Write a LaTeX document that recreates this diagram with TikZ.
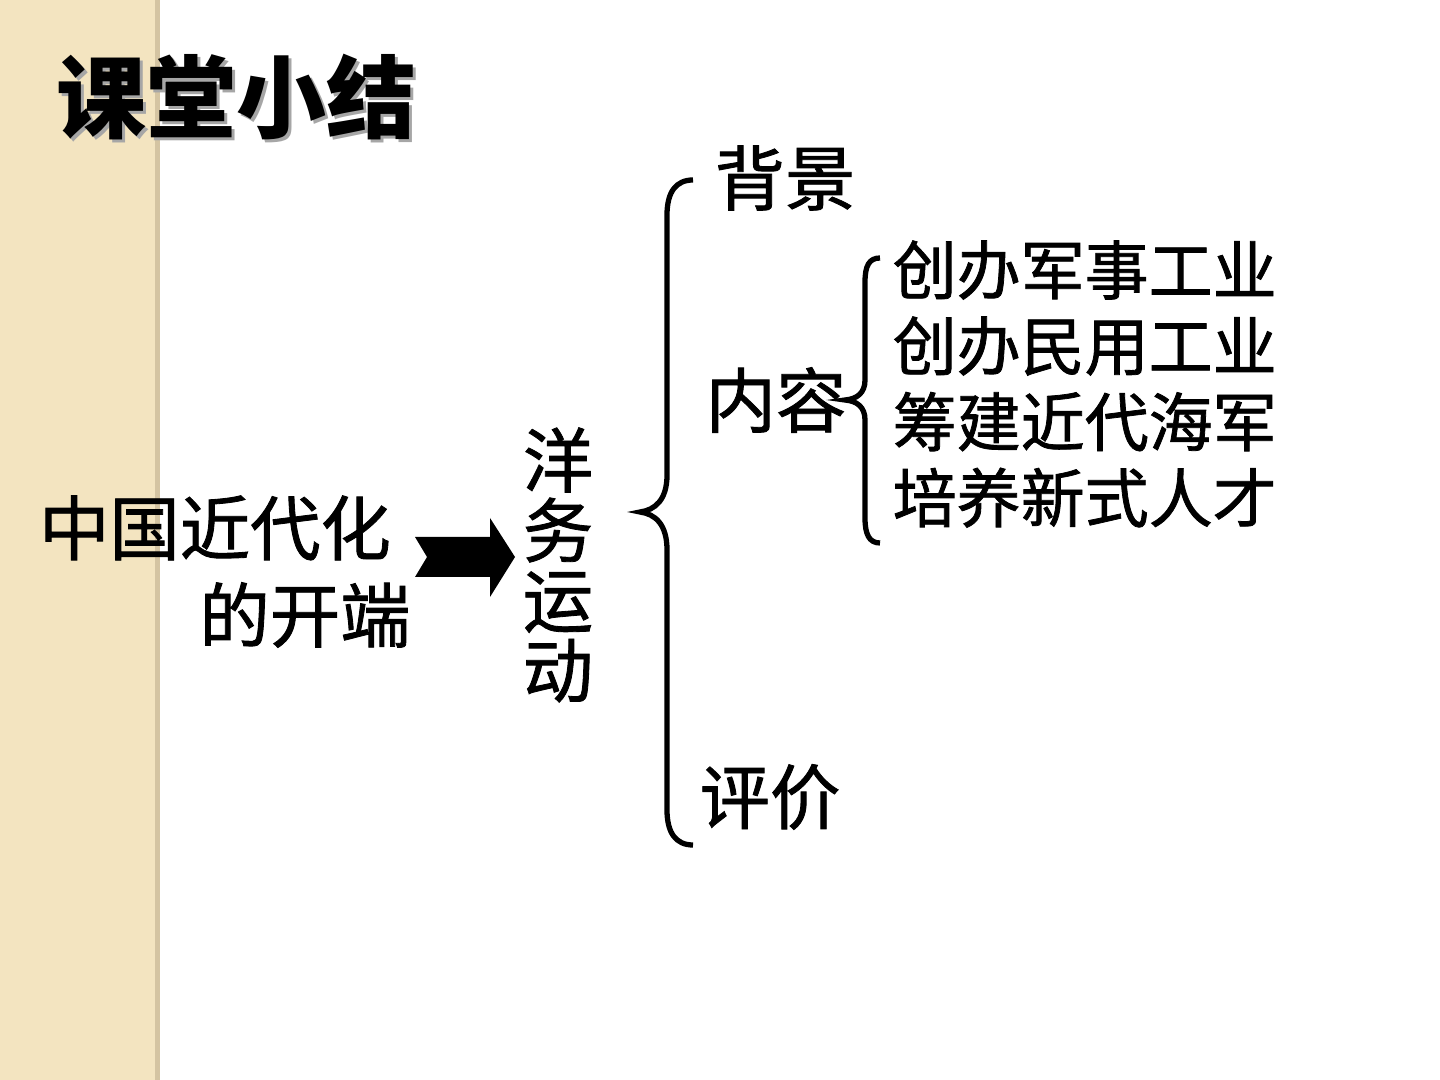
\documentclass[tikz,border=0pt]{standalone}
\usepackage{fontspec}
\newfontfamily\cjk{Noto Sans CJK SC}[FakeBold=1.2]
\newfontfamily\cjkhead{Noto Sans CJK SC}
\usepackage{tikz}
\usetikzlibrary{positioning, calc}
\definecolor{paper}{HTML}{F3E4C0}
\definecolor{paperedge}{HTML}{D4C4A2}
\tikzset{
    big/.style={font=\cjk\fontsize{20}{19.9}\selectfont},
    small/.style={font=\cjk\fontsize{18.2}{21.6}\selectfont},
    heading/.style={font=\cjkhead\fontsize{25.6}{26}\selectfont\bfseries},
    brace/.style={line width=1.5pt}
}

\begin{document}
\begin{tikzpicture}[x=0.01cm, y=-0.01cm, inner sep=0pt]
    % Page and left strip
    \useasboundingbox (0,0) rectangle (1440,1080);
    \fill[white] (0,0) rectangle (1440,1080);
    \fill[paper] (0,0) rectangle (155,1080);
    \fill[paperedge] (155,0) rectangle (160,1080);

    % Title with shadow
    \node[heading, anchor=west, black!35] at (59,100) {课堂小结};
    \node[heading, anchor=west] (title) at (56,97) {课堂小结};

    % Left text
    \node[big] (startA) at (215,528) {中国近代化};
    \node[big] (startB) at (305,615) {的开端};

    % Block arrow
    \fill (415,537) -- (490,537) -- (490,518) -- (515,557) -- (490,597)
        -- (490,577) -- (415,577) -- (427,557) -- cycle;

    % Vertical title
    \node[big, align=center] (yangwu) at (558,565) {洋\\务\\运\\动};

    % Big brace
    \draw[brace] (693,180) .. controls (676,180) and (667,192) .. (667,215)
        -- (667,475) .. controls (667,500) and (655,510) .. (640,512)
        .. controls (655,514) and (667,524) .. (667,550)
        -- (667,810) .. controls (667,833) and (676,845) .. (693,845);

    % Branches
    \node[big] (bg) at (785,178) {背景};
    \node[big] (nr) at (776,400) {内容};
    \node[big] (pj) at (770,797) {评价};

    % Small brace
    \draw[brace] (880,258) .. controls (869,258) and (865,266) .. (865,282)
        -- (865,380) .. controls (865,393) and (857,399) .. (845,400)
        .. controls (857,401) and (865,407) .. (865,420)
        -- (865,518) .. controls (865,534) and (869,543) .. (880,543);

    % Content items
    \node[small, anchor=west, align=left] (items) at (892,384)
        {创办军事工业\\创办民用工业\\筹建近代海军\\培养新式人才};
\end{tikzpicture}
\end{document}
